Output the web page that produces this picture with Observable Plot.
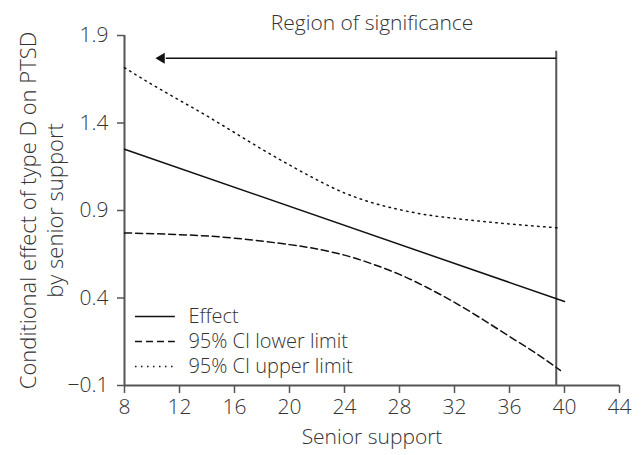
<!DOCTYPE html>
<html>
<head>
<meta charset="utf-8">
<script src="https://cdn.jsdelivr.net/npm/d3@7"></script>
<script src="https://cdn.jsdelivr.net/npm/@observablehq/plot@0.6"></script>
<style>
  html, body { margin: 0; padding: 0; background: #fff; }
  #chart svg { display: block; }
  #chart svg text { font-weight: 300; }
</style>
</head>
<body>
<div id="chart"></div>
<script>
// ---- data ----
const xTicks = [8, 12, 16, 20, 24, 28, 32, 36, 40, 44];
const yTicks = [-0.1, 0.4, 0.9, 1.4, 1.9];

const effectX = [8, 40];
const effectY = [1.25, 0.38];

const lowerX = [8, 12, 16, 20, 22, 24, 26, 28, 30, 32, 34, 36, 38, 39.7];
const lowerY = [0.772, 0.762, 0.742, 0.705, 0.68, 0.645, 0.595, 0.535, 0.46, 0.375, 0.28, 0.18, 0.08, -0.014];

const upperX = [8, 10, 12, 14, 16, 18, 20, 22, 24, 26, 28, 30, 32, 34, 36, 38, 39.7];
const upperY = [1.716, 1.62, 1.53, 1.44, 1.345, 1.25, 1.16, 1.075, 1.0, 0.945, 0.905, 0.875, 0.855, 0.838, 0.823, 0.81, 0.80];

const seriesNames = ["Effect", "95% CI lower limit", "95% CI upper limit"];
const seriesDash = [null, "7,4", "1.5,4.5"];

const significanceBoundary = [39.4];
const arrowSpan = [{x1: 39.4, x2: 11.0, y: 1.77}];
const arrowHead = [{x: 10.7, y: 1.77}];
const boundaryTop = 1.81;

const title = "Region of significance";
const xLabel = "Senior support";
const yLabel = "Conditional effect of type D on PTSD\nby senior support";

// legend placement in data units (inside the plot, lower left)
const legendRows = [0.294, 0.151, 0.009];
const legendLine = [8.8, 11.7];
const legendTextX = 12.65;

// ---- tables built from the arrays ----
const toRows = (xs, ys) => xs.map((x, i) => ({x, y: ys[i]}));
const effect = toRows(effectX, effectY);
const lower = toRows(lowerX, lowerY);
const upper = toRows(upperX, upperY);
const legend = seriesNames.map((name, i) => ({name, dash: seriesDash[i], y: legendRows[i]}));

const ink = "#111";
const textColor = "#333";
const axisColor = "#555";
const font = "'Open Sans', 'Noto Sans', sans-serif";

const chart = Plot.plot({
  width: 643,
  height: 455,
  marginLeft: 124,
  marginRight: 24,
  marginTop: 35,
  marginBottom: 70,
  style: {fontFamily: font, fontSize: "21px", color: textColor, background: "#fff", overflow: "visible"},
  x: {domain: [8, 44]},
  y: {domain: [-0.1, 1.9]},
  marks: [
    Plot.axisX({ticks: xTicks, tickSize: 8, tickPadding: 6, tickFormat: d => String(d), label: null, stroke: axisColor, strokeWidth: 1.5, fill: textColor, fontSize: 21}),
    Plot.axisY({ticks: yTicks, tickSize: 7, tickPadding: 9, tickFormat: d => d.toFixed(1).replace("-", "\u2212"), label: null, stroke: axisColor, strokeWidth: 1.5, fill: textColor, fontSize: 21}),
    Plot.ruleX([8], {stroke: axisColor, strokeWidth: 2}),
    Plot.ruleY([-0.1], {stroke: axisColor, strokeWidth: 2}),

    // region of significance
    Plot.ruleX(significanceBoundary, {y1: -0.1, y2: boundaryTop, stroke: axisColor, strokeWidth: 2}),
    Plot.link(arrowSpan, {x1: "x1", x2: "x2", y1: "y", y2: "y", stroke: ink, strokeWidth: 1.5}),
    Plot.dot(arrowHead, {x: "x", y: "y", symbol: "triangle", r: 4, rotate: -90, fill: ink, stroke: null}),
    Plot.text([title], {frameAnchor: "top", dy: -20, fontSize: 21, fill: textColor, textAnchor: "middle"}),

    // series
    Plot.line(effect, {x: "x", y: "y", stroke: ink, strokeWidth: 1.5}),
    Plot.line(lower, {x: "x", y: "y", stroke: ink, strokeWidth: 1.5, strokeDasharray: seriesDash[1], curve: "natural"}),
    Plot.line(upper, {x: "x", y: "y", stroke: ink, strokeWidth: 1.5, strokeDasharray: seriesDash[2], curve: "monotone-x"}),

    // legend
    ...legend.map(d => Plot.ruleY([d.y], {x1: legendLine[0], x2: legendLine[1], stroke: ink, strokeWidth: 1.5, strokeDasharray: d.dash})),
    Plot.text(legend, {x: () => legendTextX, y: "y", text: "name", textAnchor: "start", fontSize: 20, fill: textColor}),

    // axis titles
    Plot.text([xLabel], {frameAnchor: "bottom", dy: 58, fontSize: 21, fill: textColor, textAnchor: "middle"}),
    Plot.text([yLabel], {frameAnchor: "left", dx: -84, rotate: -90, textAnchor: "middle", lineHeight: 1.25, fontSize: 22, fill: textColor})
  ]
});

document.getElementById("chart").appendChild(chart);
</script>
</body>
</html>
